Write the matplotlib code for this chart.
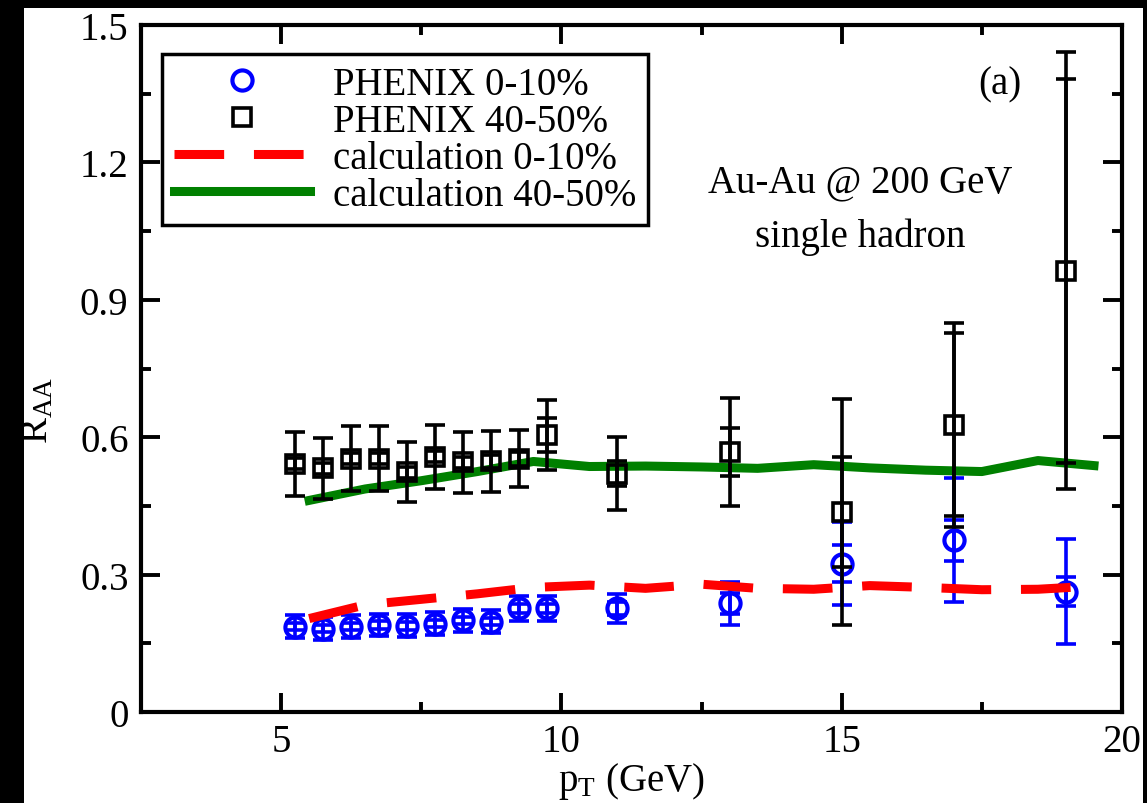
import matplotlib
matplotlib.use("Agg")
import matplotlib.pyplot as plt
from matplotlib.patches import Rectangle
from matplotlib.ticker import MultipleLocator

plt.rcParams['font.family'] = ['Liberation Serif', 'DejaVu Serif']
plt.rcParams['mathtext.fontset'] = 'custom'
plt.rcParams['mathtext.rm'] = 'Liberation Serif'
plt.rcParams['mathtext.it'] = 'Liberation Serif:italic'

# PHENIX data (pT in GeV)
pt_data = [5.25, 5.75, 6.25, 6.75, 7.25, 7.75, 8.25, 8.75, 9.25, 9.75, 11, 13, 15, 17, 19]

raa_central = [0.186, 0.182, 0.186, 0.19, 0.188, 0.193, 0.2, 0.197, 0.226, 0.226, 0.226, 0.237, 0.324, 0.375, 0.263]
stat_central = [0.008, 0.008, 0.008, 0.008, 0.008, 0.008, 0.008, 0.008, 0.01, 0.01, 0.015, 0.022, 0.04, 0.045, 0.032]
sys_central = [0.025, 0.025, 0.025, 0.025, 0.025, 0.025, 0.025, 0.025, 0.028, 0.028, 0.032, 0.047, 0.09, 0.135, 0.115]

raa_periph = [0.542, 0.532, 0.553, 0.553, 0.524, 0.557, 0.545, 0.547, 0.553, 0.605, 0.52, 0.567, 0.437, 0.627, 0.963]
stat_periph = [0.012, 0.012, 0.012, 0.012, 0.012, 0.012, 0.012, 0.014, 0.015, 0.038, 0.027, 0.052, 0.12, 0.2, 0.42]
sys_periph = [0.07, 0.067, 0.071, 0.071, 0.066, 0.07, 0.066, 0.066, 0.062, 0.076, 0.08, 0.118, 0.247, 0.222, 0.477]

# calculation
pt_calc = [5.5, 6.5, 7.5, 8.5, 9.5, 10.5, 11.5, 12.5, 13.5, 14.5, 15.5, 16.5, 17.5, 18.5, 19.5]
calc_central = [0.204, 0.234, 0.246, 0.258, 0.272, 0.277, 0.27, 0.279, 0.27, 0.268, 0.276, 0.272, 0.267, 0.268, 0.275]
calc_periph = [0.462, 0.487, 0.505, 0.525, 0.547, 0.536, 0.537, 0.535, 0.532, 0.54, 0.533, 0.528, 0.525, 0.549, 0.538]

fig = plt.figure(figsize=(11.47, 8.04), dpi=100)
fig.patch.set_facecolor('black')
fig.patches.append(Rectangle((24/1147, 0), 1119/1147, 795/804, transform=fig.transFigure,
                             facecolor='white', edgecolor='none', zorder=-10))
ax = fig.add_axes([141/1147, 91/804, 981/1147, 687/804])
ax.set_facecolor('white')

eb = dict(fmt='none', elinewidth=2.6, capsize=7.5, capthick=2.6)
# blue: central
ax.errorbar(pt_data, raa_central, yerr=sys_central, ecolor='blue', zorder=2, **eb)
ax.errorbar(pt_data, raa_central, yerr=stat_central, ecolor='blue', zorder=2, **eb)
h1, = ax.plot(pt_data, raa_central, 'o', ms=14.5, mfc='none', mec='blue', mew=3, zorder=2)

h3, = ax.plot(pt_calc, calc_central, color='red', lw=6.5, linestyle=(0, (5.5, 3.3)), zorder=3)
h4, = ax.plot(pt_calc, calc_periph, color='green', lw=6.5, zorder=4)

# black: peripheral
ax.errorbar(pt_data, raa_periph, yerr=sys_periph, ecolor='black', zorder=5, **eb)
ax.errorbar(pt_data, raa_periph, yerr=stat_periph, ecolor='black', zorder=5, **eb)
h2, = ax.plot(pt_data, raa_periph, 's', ms=13.5, mfc='none', mec='black', mew=2.6, zorder=5)

ax.set_xlim(2.5, 20)
ax.set_ylim(0, 1.5)
ax.xaxis.set_major_locator(MultipleLocator(5))
ax.xaxis.set_minor_locator(MultipleLocator(2.5))
ax.yaxis.set_minor_locator(MultipleLocator(0.15))
ax.set_yticks([0, 0.3, 0.6, 0.9, 1.2, 1.5])
ax.set_yticklabels(['0', '0.3', '0.6', '0.9', '1.2', '1.5'])
ax.tick_params(which='both', direction='in', top=True, right=True, width=2.8, labelsize=28)
ax.tick_params(which='major', length=14)
ax.tick_params(which='minor', length=7)
ax.tick_params(axis='y', pad=9)
ax.tick_params(axis='x', pad=8)
for s in ax.spines.values():
    s.set_linewidth(3)

ax.set_xlabel(r'p$_\mathrm{T}$ (GeV)', fontsize=28)
ax.set_ylabel(r'R$_\mathrm{AA}$', fontsize=28)
ax.xaxis.set_label_coords(0.5, -0.07)
ax.yaxis.set_label_coords(-0.086, 0.44)

ax.text(0.876, 0.914, '(a)', transform=ax.transAxes, fontsize=28, ha='center', va='center')
ax.text(0.733, 0.771, 'Au-Au @ 200 GeV', transform=ax.transAxes, fontsize=28, ha='center', va='center')
ax.text(0.733, 0.693, 'single hadron', transform=ax.transAxes, fontsize=28, ha='center', va='center')

leg = ax.legend([h1, h2, h3, h4],
                ['PHENIX 0-10%', 'PHENIX 40-50%', 'calculation 0-10%', 'calculation 40-50%'],
                loc='upper left', bbox_to_anchor=(0.0214, 0.958), fontsize=28,
                numpoints=1, handlelength=3.5, handletextpad=0.6, labelspacing=0.0,
                borderpad=0.3, borderaxespad=0, fancybox=False, framealpha=1)
leg.get_frame().set_edgecolor('black')
leg.get_frame().set_linewidth(2.5)
leg.set_zorder(10)

fig.savefig('out.png', dpi=100, facecolor=fig.get_facecolor())
